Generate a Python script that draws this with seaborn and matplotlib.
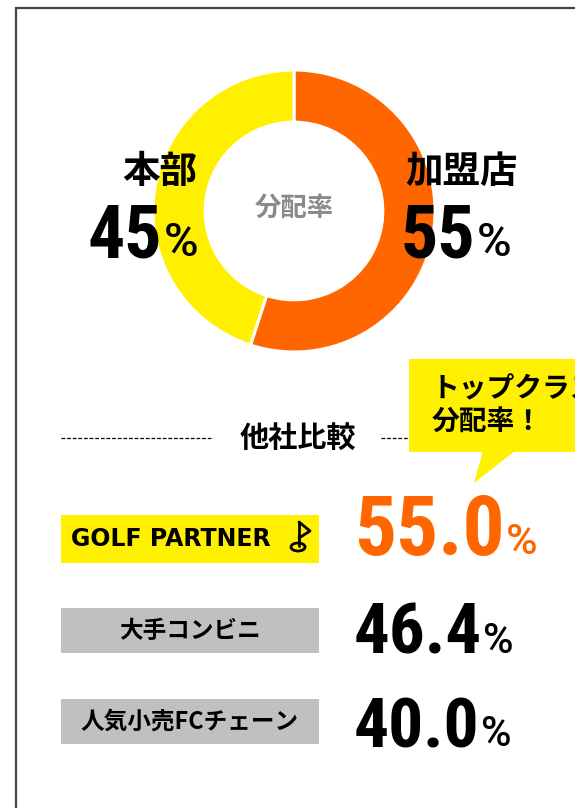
import matplotlib
matplotlib.use("Agg")
import matplotlib.pyplot as plt
from matplotlib.patches import Rectangle, Polygon, Ellipse
import seaborn as sns

# --- data ---
share_labels = ["加盟店", "本部"]
share_values = [55, 45]
share_colors = ["#FF6600", "#FFF000"]
center_label = "分配率"

compare_title = "他社比較"
compare_names = ["GOLF PARTNER", "大手コンビニ", "人気小売FCチェーン"]
compare_values = [55.0, 46.4, 40.0]
compare_box_colors = ["#FFF000", "#C0C0C0", "#C0C0C0"]
compare_value_colors = ["#FF6600", "#000000", "#000000"]
bubble_lines = ["トップクラスの", "分配率！"]

sns.set_theme(style="white")
plt.rcParams["font.family"] = ["Noto Sans CJK JP", "DejaVu Sans"]

W, H = 575, 808
fig = plt.figure(figsize=(W / 100, H / 100), dpi=100)
fig.patch.set_facecolor("white")

# donut axes (pixel geometry: centre 294,211 / radius 141)
cx, cy, r = 294, 211, 141
ax_pie = fig.add_axes([(cx - r) / W, (H - cy - r) / H, 2 * r / W, 2 * r / H])
ax_pie.pie(share_values, colors=share_colors, startangle=90, counterclock=False,
           radius=1.0, wedgeprops=dict(width=0.37, edgecolor="white", linewidth=2.2))
ax_pie.set_xlim(-1, 1)
ax_pie.set_ylim(-1, 1)
ax_pie.set_aspect("equal")
ax_pie.axis("off")

# overlay axes in pixel coordinates (y downward)
ax = fig.add_axes([0, 0, 1, 1])
ax.set_xlim(0, W)
ax.set_ylim(H, 0)
ax.axis("off")
ax.patch.set_alpha(0)

# frame
ax.plot([15.5, 15.5, W + 5], [H + 5, 8, 8], color="#444444", lw=1.6, solid_joinstyle="miter")

num_font = dict(family=["Roboto Condensed", "DejaVu Sans"], fontweight="bold")
pct_font = dict(family=["Roboto", "DejaVu Sans"], fontweight="medium")
jp_bold = dict(fontweight="bold", color="black")

# donut labels
ax.text(cx, 208, center_label, ha="center", va="center", fontsize=19, fontweight="bold", color="#8a8a8a")
label_pos = {"本部": (160, 171), "加盟店": (462, 171)}
num_right = {"本部": 162, "加盟店": 475}
for name, val in zip(share_labels, share_values):
    lx, ly = label_pos[name]
    ax.text(lx, ly, name, ha="center", va="center", fontsize=27, **jp_bold)
    ax.text(num_right[name], 257, f"{val}", ha="right", va="baseline", fontsize=53,
            color="black", **num_font)
    ax.text(num_right[name] + 2, 256, "%", ha="left", va="baseline", fontsize=34,
            color="black", **pct_font)

# section heading with dashed rules
ax.plot([61, 213], [437.5, 437.5], color="black", lw=0.9, ls=(0, (3, 1.5)))
ax.plot([381, 535], [437.5, 437.5], color="black", lw=0.9, ls=(0, (3, 1.5)))
ax.text(298, 438, compare_title, ha="center", va="center", fontsize=21, **jp_bold)

# speech bubble
ax.add_patch(Rectangle((409, 359), 200, 93, facecolor="#FFF000", edgecolor="none", zorder=3))
ax.add_patch(Polygon([(483, 451), (515, 451), (474, 483)], closed=True,
                     facecolor="#FFF000", edgecolor="none", zorder=3))
for i, line in enumerate(bubble_lines):
    ax.text(432, 389 + 33 * i, line, ha="left", va="center", fontsize=20, zorder=4, **jp_bold)

# comparison rows
box_top = [515, 608, 699]
box_h = [48, 45, 45]
num_base = [555, 654, 747]
num_size = [60, 51, 50]
pct_size = [31, 30, 30]
for i, (name, val) in enumerate(zip(compare_names, compare_values)):
    ax.add_patch(Rectangle((61, box_top[i]), 258, box_h[i], facecolor=compare_box_colors[i],
                           edgecolor="none", zorder=2))
    mid = box_top[i] + box_h[i] / 2
    if i == 0:
        ax.text(71, mid + 0.5, name, ha="left", va="center", fontsize=17, fontweight="bold",
                family="DejaVu Sans", color="black", zorder=3)
        # flag icon
        ax.plot([299, 299], [522, 546], color="black", lw=2, zorder=3)
        ax.plot([299, 310, 299], [522, 531, 538], color="black", lw=2, zorder=3)
        ax.add_patch(Ellipse((298, 547), 14, 8, facecolor="none", edgecolor="black", lw=2, zorder=3))
    else:
        ax.text(190, mid, name, ha="center", va="center", fontsize=17, zorder=3, **jp_bold)
    txt = ax.text(354, num_base[i], f"{val:.1f}", ha="left", va="baseline",
                  fontsize=num_size[i], color=compare_value_colors[i], **num_font)
    fig.canvas.draw()
    bb = ax.transData.inverted().transform(txt.get_window_extent())
    ax.text(bb[1][0] + 1, num_base[i] - 1, "%", ha="left", va="baseline",
            fontsize=pct_size[i], color=compare_value_colors[i], **pct_font)

fig.savefig("out.png", dpi=100)
